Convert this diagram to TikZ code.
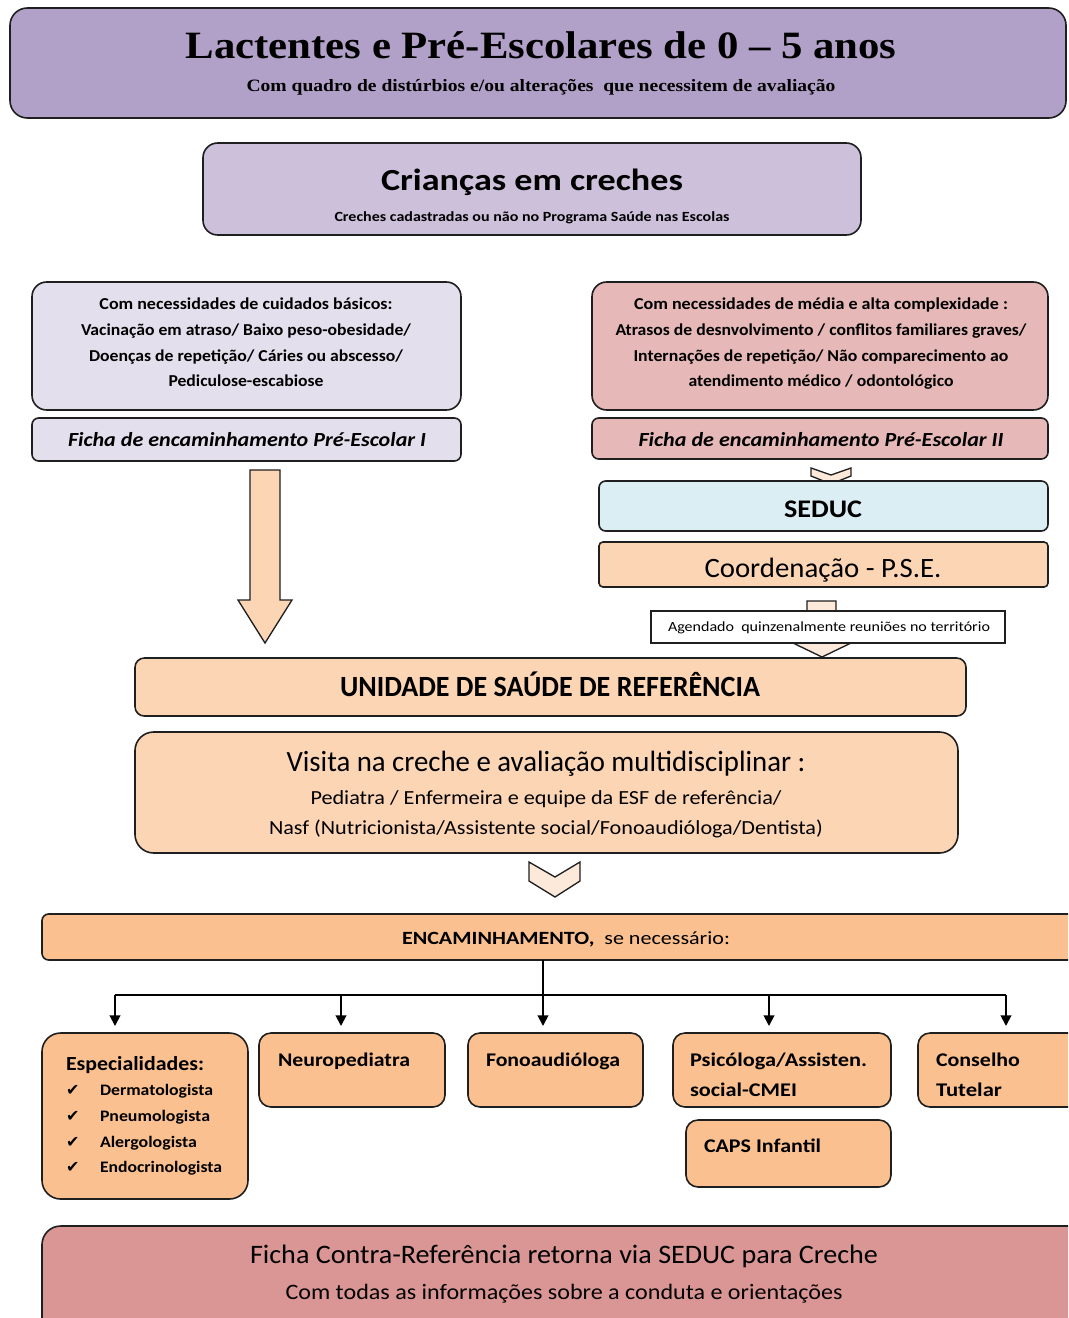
\documentclass[tikz,border=0pt]{standalone}
\usepackage{fontspec}
\setmainfont{Carlito}
\newfontfamily\ttlfont{Liberation Serif}
\newfontfamily\symfont{DejaVu Sans}
\usetikzlibrary{arrows.meta,calc}
\definecolor{cTop}{HTML}{B1A0C7}
\definecolor{cCri}{HTML}{CCC0DA}
\definecolor{cLeft}{HTML}{E4DFEC}
\definecolor{cRight}{HTML}{E6B8B7}
\definecolor{cSeduc}{HTML}{DAEEF3}
\definecolor{cPeach}{HTML}{FCD5B5}
\definecolor{cOrange}{HTML}{FAC090}
\definecolor{cRose}{HTML}{DA9694}
\definecolor{cLight}{HTML}{FDE9D9}
\definecolor{cLine}{HTML}{1F1F1F}
\newcommand{\fsz}[1]{\fontsize{#1}{#1}\selectfont}
\newsavebox{\hwbox}
% scale content horizontally to a target width in reference pixels
\newcommand{\hw}[2]{\sbox{\hwbox}{#2}\pgfmathsetmacro{\hwr}{#1*0.75/\wd\hwbox}\scalebox{\hwr}[1]{\usebox{\hwbox}}}
\newcommand{\bx}[6]{\node[#6, minimum width={(#4-#2)*0.75pt}, minimum height={(#5-#3)*0.75pt}] (#1) at ({(#2+#4)/2},{(#3+#5)/2}) {};}
\newcommand{\chkmark}{{\symfont\fsz{12}✔}}
\begin{document}
\begin{tikzpicture}[x=0.75pt,y=-0.75pt,
  box/.style={draw=cLine, line width=1.2pt, rounded corners=11pt, inner sep=0pt, outer sep=0pt},
  sbox/.style={box, rounded corners=5pt},
  txt/.style={inner sep=0pt, outer sep=0pt, text=black},
  chk/.style={txt, anchor=base west},
  blk/.style={draw=cLine, line width=1.0pt, line join=miter},
  conn/.style={draw=black, line width=1.4pt},
  arr/.style={conn, -{Triangle[length=8pt,width=8pt]}}]
\clip (0,0) rectangle (1068,1318);
\fill[white] (0,0) rectangle (1068,1318);

% top header
\bx{top}{10}{8}{1066}{118}{box, fill=cTop, rounded corners=13pt}
\node[txt, anchor=base] (ttl) at (541,58) {\hw{711}{\ttlfont\bfseries\fsz{29}Lactentes e Pré-Escolares de 0 – 5 anos}};
\node[txt, anchor=base] (sub) at (541,91) {\hw{589}{\ttlfont\bfseries\fsz{13}Com quadro de distúrbios e/ou alterações\ \ que necessitem de avaliação}};

% creches
\bx{cri}{203}{143}{861}{235}{box, fill=cCri}
\node[txt, anchor=base] (crit) at (532,190) {\hw{302}{\bfseries\fsz{23}Crianças em creches}};
\node[txt, anchor=base] (cris) at (532,221) {\hw{395}{\bfseries\fsz{10.5}Creches cadastradas ou não no Programa Saúde nas Escolas}};

% left column
\bx{lbox}{32}{282}{461}{410}{box, fill=cLeft}
\node[txt, anchor=base] (l1) at (246,309) {\hw{293}{\bfseries\fsz{12.5}Com necessidades de cuidados básicos:}};
\node[txt, anchor=base] (l2) at (246,335) {\hw{330}{\bfseries\fsz{12.5}Vacinação em atraso/ Baixo peso-obesidade/}};
\node[txt, anchor=base] (l3) at (246,361) {\hw{314}{\bfseries\fsz{12.5}Doenças de repetição/ Cáries ou abscesso/}};
\node[txt, anchor=base] (l4) at (246,386) {\hw{155}{\bfseries\fsz{12.5}Pediculose-escabiose}};
\bx{lficha}{32}{418}{461}{461}{sbox, fill=cLeft}
\node[txt, anchor=base] (lft) at (247,446) {\hw{358}{\bfseries\itshape\fsz{15}Ficha de encaminhamento Pré-Escolar I}};

% right column
\bx{rbox}{592}{282}{1048}{410}{box, fill=cRight}
\node[txt, anchor=base] (r1) at (821,309) {\hw{374}{\bfseries\fsz{12.5}Com necessidades de média e alta complexidade :}};
\node[txt, anchor=base] (r2) at (821,335) {\hw{411}{\bfseries\fsz{12.5}Atrasos de desnvolvimento / conflitos familiares graves/}};
\node[txt, anchor=base] (r3) at (821,361) {\hw{375}{\bfseries\fsz{12.5}Internações de repetição/ Não comparecimento ao}};
\node[txt, anchor=base] (r4) at (821,386) {\hw{265}{\bfseries\fsz{12.5}atendimento médico / odontológico}};
\bx{rficha}{592}{418}{1048}{459}{sbox, fill=cRight}
\node[txt, anchor=base] (rft) at (821,446) {\hw{365}{\bfseries\itshape\fsz{15}Ficha de encaminhamento Pré-Escolar II}};

% small chevron to SEDUC
\draw[blk, fill=cLight] (811,468) -- (831,475) -- (851,468) -- (851,476) -- (831,484) -- (811,476) -- cycle;
\bx{seduc}{599}{481}{1048}{531}{sbox, fill=cSeduc}
\node[txt, anchor=base] (sedt) at (823,517) {\hw{78}{\bfseries\fsz{19}SEDUC}};
\bx{coord}{599}{542}{1048}{587}{sbox, fill=cPeach, rounded corners=3pt}
\node[txt, anchor=base] (coot) at (823,577) {\hw{237}{\fsz{21}Coordenação - P.S.E.}};

% arrow coord -> unidade with label box
\draw[blk, fill=cLight] (807,601) -- (836,601) -- (836,630) -- (878,630) -- (822,657) -- (766,630) -- (807,630) -- cycle;
\bx{agend}{651}{611}{1005}{643}{draw=cLine, line width=1.0pt, fill=white, inner sep=0pt}
\node[txt, anchor=base] (agt) at (829,631) {\hw{322}{\fsz{10.5}Agendado\ \ quinzenalmente reuniões no território}};

% left block arrow
\draw[blk, fill=cPeach] (250,470) -- (280,470) -- (280,600) -- (292,600) -- (265,643) -- (238,600) -- (250,600) -- cycle;

% unidade
\bx{unid}{135}{658}{966}{716}{sbox, fill=cPeach, rounded corners=7pt}
\node[txt, anchor=base] (unt) at (550,696) {\hw{420}{\bfseries\fsz{22}UNIDADE DE SAÚDE DE REFERÊNCIA}};

% visita
\bx{visita}{135}{732}{958}{853}{box, fill=cPeach, rounded corners=14pt}
\node[txt, anchor=base] (v1) at (546,771) {\hw{519}{\fsz{22}Visita na creche e avaliação multidisciplinar :}};
\node[txt, anchor=base] (v2) at (546,804) {\hw{471}{\fsz{15}Pediatra / Enfermeira e equipe da ESF de referência/}};
\node[txt, anchor=base] (v3) at (546,834) {\hw{554}{\fsz{15}Nasf (Nutricionista/Assistente social/Fonoaudióloga/Dentista)}};

% chevron below visita
\draw[blk, fill=cLight] (529,862) -- (555,877) -- (580,862) -- (580,881) -- (555,897) -- (529,881) -- cycle;

% encaminhamento
\bx{enc}{42}{914}{1080}{960}{sbox, fill=cOrange, rounded corners=5pt}
\node[txt, anchor=base] (enct) at (566,944) {\hw{328}{\fsz{14}\textbf{ENCAMINHAMENTO,}\ \ se necessário:}};

% bottom boxes
\bx{esp}{42}{1033}{248}{1199}{box, fill=cOrange, rounded corners=14pt}
\node[txt, anchor=base west] (espt) at (66,1070) {\hw{138}{\bfseries\fsz{15}Especialidades:}};
\node[chk] (e1c) at (66,1095) {\chkmark};
\node[txt, anchor=base west] (e1) at (100,1095) {\hw{113}{\bfseries\fsz{12}Dermatologista}};
\node[chk] (e2c) at (66,1121) {\chkmark};
\node[txt, anchor=base west] (e2) at (100,1121) {\hw{110}{\bfseries\fsz{12}Pneumologista}};
\node[chk] (e3c) at (66,1147) {\chkmark};
\node[txt, anchor=base west] (e3) at (100,1147) {\hw{97}{\bfseries\fsz{12}Alergologista}};
\node[chk] (e4c) at (66,1172) {\chkmark};
\node[txt, anchor=base west] (e4) at (100,1172) {\hw{122}{\bfseries\fsz{12}Endocrinologista}};

\bx{neuro}{259}{1033}{445}{1107}{box, fill=cOrange, rounded corners=9pt}
\node[txt, anchor=base west] (neut) at (278,1066) {\hw{132}{\bfseries\fsz{14.5}Neuropediatra}};
\bx{fono}{468}{1033}{643}{1107}{box, fill=cOrange, rounded corners=9pt}
\node[txt, anchor=base west] (fonot) at (486,1066) {\hw{134}{\bfseries\fsz{14.5}Fonoaudióloga}};
\bx{psi}{673}{1033}{891}{1107}{box, fill=cOrange, rounded corners=9pt}
\node[txt, anchor=base west] (psi1) at (690,1066) {\hw{177}{\bfseries\fsz{14.5}Psicóloga/Assisten.}};
\node[txt, anchor=base west] (psi2) at (690,1096) {\hw{107}{\bfseries\fsz{14.5}social-CMEI}};
\bx{cons}{918}{1033}{1090}{1107}{box, fill=cOrange, rounded corners=9pt}
\node[txt, anchor=base west] (cons1) at (936,1066) {\hw{84}{\bfseries\fsz{14.5}Conselho}};
\node[txt, anchor=base west] (cons2) at (936,1096) {\hw{66}{\bfseries\fsz{14.5}Tutelar}};
\bx{caps}{686}{1120}{891}{1187}{box, fill=cOrange, rounded corners=9pt}
\node[txt, anchor=base west] (capst) at (704,1152) {\hw{117}{\bfseries\fsz{14.5}CAPS Infantil}};

% connectors
\coordinate (j) at (543,995);
\coordinate (h1) at (115,995);
\coordinate (h2) at (341,995);
\coordinate (h4) at (769,995);
\coordinate (h5) at (1006,995);
\draw[conn] (h1) -- (h5);
\draw[arr] (enc.south -| j) -- ($(fono.north -| j)+(0,-7)$);
\draw[arr] (h1) -- ($(esp.north -| h1)+(0,-7)$);
\draw[arr] (h2) -- ($(neuro.north -| h2)+(0,-7)$);
\draw[arr] (h4) -- ($(psi.north -| h4)+(0,-7)$);
\draw[arr] (h5) -- ($(cons.north -| h5)+(0,-7)$);

% bottom return box
\bx{ret}{42}{1226}{1090}{1340}{box, fill=cRose, rounded corners=14pt}
\node[txt, anchor=base] (ret1) at (564,1263) {\hw{628}{\fsz{20}Ficha Contra-Referência retorna via SEDUC para Creche}};
\node[txt, anchor=base] (ret2) at (564,1299) {\hw{557}{\fsz{16.5}Com todas as informações sobre a conduta e orientações}};
\end{tikzpicture}
\end{document}
